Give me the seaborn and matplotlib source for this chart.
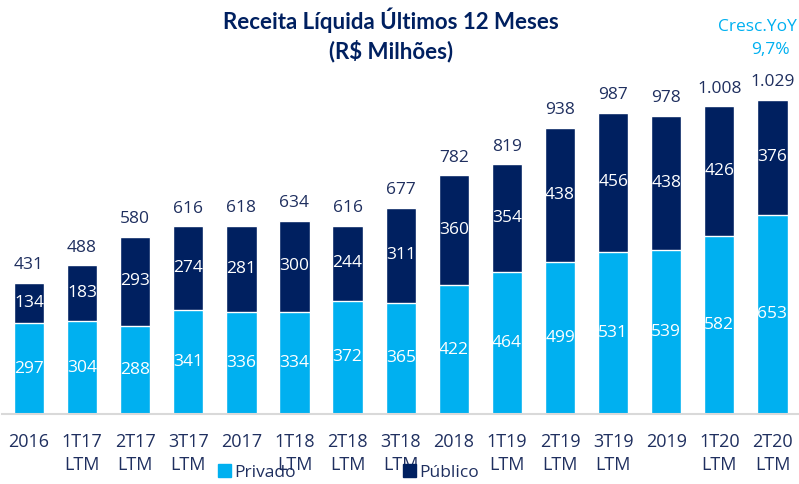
import numpy as np
import pandas as pd
import matplotlib
matplotlib.use("Agg")
import matplotlib.pyplot as plt
import seaborn as sns

# Chart values
categories = ["2016", "1T17\nLTM", "2T17\nLTM", "3T17\nLTM", "2017", "1T18\nLTM",
              "2T18\nLTM", "3T18\nLTM", "2018", "1T19\nLTM", "2T19\nLTM",
              "3T19\nLTM", "2019", "1T20\nLTM", "2T20\nLTM"]
privado = [297, 304, 288, 341, 336, 334, 372, 365, 422, 464, 499, 531, 539, 582, 653]
publico = [134, 183, 293, 274, 281, 300, 244, 311, 360, 354, 438, 456, 438, 426, 376]
total_labels = ["431", "488", "580", "616", "618", "634", "616", "677", "782",
                "819", "938", "987", "978", "1.008", "1.029"]
yoy_title = "Cresc.YoY"
yoy_value = "9,7%"

LIGHT = "#00B0F0"
DARK = "#002060"
TEXT = "#1F2F5F"

sns.set_theme(style="white")
plt.rcParams["font.family"] = ["Open Sans", "DejaVu Sans"]

df = pd.DataFrame({"cat": categories, "privado": privado, "publico": publico})
df["total"] = df["privado"] + df["publico"]

fig = plt.figure(figsize=(7.99, 4.84), dpi=100)
ax = fig.add_axes([0.003, 0.1446, 0.997, 0.8554])

# stacked bars: total (Público colour) underneath, Privado on top
sns.barplot(data=df, x="cat", y="total", color=DARK, saturation=1, width=0.57, ax=ax)
sns.barplot(data=df, x="cat", y="privado", color=LIGHT, saturation=1, width=0.57, ax=ax)

ax.set_xlim(-0.5, len(categories) - 0.5)
ax.set_ylim(0, 1357)

for i, (p, q) in enumerate(zip(df["privado"], df["publico"])):
    ax.text(i, p / 2, str(p), ha="center", va="center", color="white", fontsize=12.5)
    ax.text(i, p + q / 2, str(q), ha="center", va="center", color="white", fontsize=12.5)
    ax.annotate(total_labels[i], (i, p + q), xytext=(0, 7), textcoords="offset points",
                ha="center", va="bottom", color=TEXT, fontsize=12.5)

sns.despine(ax=ax, left=True, top=True, right=True)
ax.spines["bottom"].set_color("#D9D9D9")
ax.spines["bottom"].set_linewidth(1.5)
ax.set_yticks([])
ax.set_xlabel("")
ax.set_ylabel("")
ax.tick_params(axis="x", length=0, pad=14, labelsize=13, labelcolor=TEXT)
for lbl in ax.get_xticklabels():
    lbl.set_verticalalignment("top")
    lbl.set_linespacing(1.35)

fig.text(0.489, 0.985, "Receita Líquida Últimos 12 Meses\n(R$ Milhões)", ha="center",
         va="top", fontsize=16, fontweight="bold", color=DARK, family="Lato",
         linespacing=1.35)
fig.text(0.997, 0.944, yoy_title, ha="right", va="center", fontsize=12.5, color=LIGHT)
fig.text(0.964, 0.896, yoy_value, ha="center", va="center", fontsize=12.5, color=LIGHT)

# legend entries sit under the categories without an "LTM" line
leg1 = fig.legend([plt.Rectangle((0, 0), 1, 1, color=LIGHT)], ["Privado"],
                  loc="center left", bbox_to_anchor=(0.273, 0.024), frameon=False,
                  handlelength=0.75, handleheight=0.75, handletextpad=0.2,
                  borderaxespad=0, borderpad=0, fontsize=12.5, labelcolor=TEXT)
leg2 = fig.legend([plt.Rectangle((0, 0), 1, 1, color=DARK)], ["Público"],
                  loc="center left", bbox_to_anchor=(0.504, 0.024), frameon=False,
                  handlelength=0.75, handleheight=0.75, handletextpad=0.2,
                  borderaxespad=0, borderpad=0, fontsize=12.5, labelcolor=TEXT)

fig.savefig("out.png", dpi=100)
